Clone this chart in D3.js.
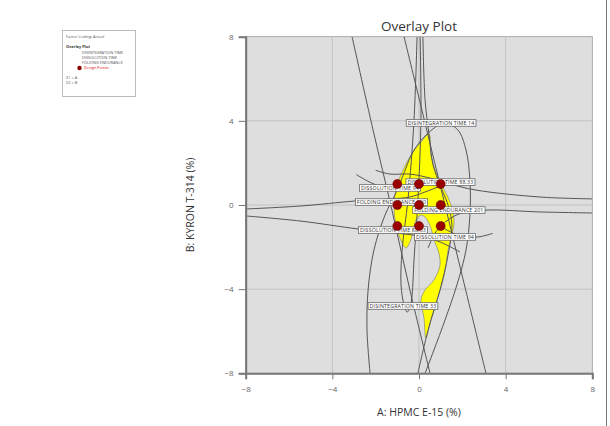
<!DOCTYPE html>
<html>
<head>
<meta charset="utf-8">
<script src="https://cdn.jsdelivr.net/npm/d3@7"></script>
<style>
  body { margin: 0; background: #fff; }
  svg { display: block; font-family: "Open Sans", "Noto Sans", sans-serif; }
</style>
</head>
<body>
<svg id="chart" width="610" height="426"></svg>
<script>
// axis ticks
const xTicks = [-8, -4, 0, 4, 8]
const yTicks = [-8, -4, 0, 4, 8]

// design points (coded factor levels)
const designX = [-1, 0, 1]
const designY = [-1, 0, 1]

// feasible (yellow) region outline, data coords
const sweetSpot = [
  [0.46, 3.37], [0.55, 2.38], [0.78, 1.57], [1.01, 1.00], [1.29, 0.48], [1.52, -0.14],
  [1.62, -0.81], [1.52, -1.43], [1.34, -2.14], [1.25, -2.85], [1.11, -3.56], [0.83, -4.52],
  [0.55, -5.47], [0.32, -6.32], [0.23, -5.37], [0.09, -4.52], [0.28, -4.04], [0.69, -3.56],
  [0.97, -2.85], [0.88, -2.14], [0.69, -1.66], [0.55, -1.09], [0.32, -0.62], [0.09, -0.48],
  [-0.14, -0.71], [-0.28, -1.28], [-0.42, -1.76], [-0.60, -2.04], [-0.88, -1.57], [-1.06, -0.95],
  [-1.15, -0.24], [-1.11, 0.48], [-0.97, 1.09], [-0.69, 1.76], [-0.28, 2.52], [0.09, 2.99]
]

// contour curves, data coords
const lineA = [[-3.09, 8], [-2.12, 3.56], [-1.25, -0.24], [-0.42, -4.04], [0.51, -8]]
const lineB = [[-0.69, 8], [1.20, 0], [3.09, -8]]
const disint14 = [
  [-2.26, -8], [-2.40, -5.94], [-2.35, -4.04], [-2.08, -2.14], [-1.57, -0.48], [-1.11, 0.48],
  [-0.78, 1.28], [-0.28, 2.52], [0.42, 3.42], [1.20, 3.90], [1.80, 3.56], [2.17, 2.61],
  [2.35, 1.19], [2.35, -0.48], [2.17, -2.14], [1.75, -3.80], [1.20, -5.47], [0.69, -6.89], [0.28, -8]
]
const disint33 = [
  [-0.09, 8], [-0.23, 4.04], [-0.51, 0.24], [-0.78, -2.14], [-0.83, -3.80], [-0.69, -4.75],
  [-0.55, -5.09], [-0.42, -4.90], [-0.32, -4.28], [-0.23, -2.61], [-0.05, 0.24], [0.09, 4.04], [0.05, 8]
]
const edgeRight = [
  [0.18, 8], [0.28, 4.99], [0.46, 3.37], [0.65, 1.90], [0.97, 0.95], [1.34, 0],
  [1.52, -0.95], [1.34, -2.38], [0.97, -4.04], [0.42, -5.94], [-0.05, -8]
]
const fold300 = [[-8, -0.19], [-5.49, -0.05], [-2.95, 0.19], [-1.34, 0.29], [-0.42, 0.38], [0.28, 0.62], [0.97, 0.90], [1.6, 1.2]]
const fold201 = [[8, -0.38], [5.58, -0.33], [3.14, -0.24], [1.98, -0.38], [1.34, -0.71], [0.78, -1.28], [0.42, -2.04]]
const diss88lo = [[-8, -0.52], [-5.49, -0.76], [-2.81, -1.14], [-1.11, -1.33], [-0.05, -1.47], [0.97, -1.76], [1.89, -2.23]]
const diss88hi = [[8, 0.29], [5.58, 0.38], [2.63, 0.71], [1.43, 1.00], [0.51, 1.28], [-0.42, 1.47], [-1.34, 1.47], [-2.0, 1.65]]
const diss94a = [[-2.9, 1.45], [-2.3, 1.1], [-1.80, 0.90], [-0.88, 0.81]]
const diss94b = [[0.97, -1.00], [1.89, -1.47], [2.72, -1.52], [3.4, -1.35]]

// contour flags
const flagText = ["DISINTEGRATION TIME  14", "DISSOLUTION TIME  88.33", "DISSOLUTION TIME  94", "FOLDING ENDURANCE  300",
  "FOLDING ENDURANCE  201", "DISSOLUTION TIME  88.33", "DISSOLUTION TIME  94", "DISINTEGRATION TIME  33"]
const flagX = [1.02, 0.99, -1.34, -1.27, 1.38, -1.20, 1.20, -0.74]
const flagY = [3.90, 1.09, 0.81, 0.14, -0.24, -1.19, -1.52, -4.80]

const svg = d3.select("#chart")
const x = d3.scaleLinear().domain([-8, 8]).range([245.7, 592.3])
const y = d3.scaleLinear().domain([-8, 8]).range([373.3, 36.7])

// page frame line at right
svg.append("line").attr("x1", 606.5).attr("x2", 606.5).attr("y1", 0).attr("y2", 426)
  .attr("stroke", "#777").attr("stroke-width", 1)

// legend
const lg = svg.append("g").attr("font-size", 3.9).attr("fill", "#555")
lg.append("rect").attr("x", 62.5).attr("y", 30.5).attr("width", 73).attr("height", 66)
  .attr("fill", "#fff").attr("stroke", "#bbb")
lg.append("text").attr("x", 66).attr("y", 38).text("Factor Coding: Actual")
lg.append("text").attr("x", 66).attr("y", 48).attr("font-weight", "bold").attr("fill", "#333").text("Overlay Plot")
;["DISINTEGRATION TIME", "DISSOLUTION TIME", "FOLDING ENDURANCE"].forEach((t, i) => {
  lg.append("text").attr("x", 82).attr("y", 53.5 + i * 5).text(t)
})
lg.append("circle").attr("cx", 79.5).attr("cy", 68).attr("r", 2.2).attr("fill", "#8b0000")
lg.append("text").attr("x", 84).attr("y", 69.3).attr("fill", "#d00").text("Design Points")
lg.append("text").attr("x", 66).attr("y", 78.5).text("X1 = A")
lg.append("text").attr("x", 66).attr("y", 84).text("X2 = B")

// plot background
svg.append("rect").attr("x", x(-8)).attr("y", y(8)).attr("width", x(8) - x(-8)).attr("height", y(-8) - y(8))
  .attr("fill", "#dedede").attr("stroke", "#999").attr("stroke-width", 0.8)

// grid
const grid = svg.append("g").attr("stroke", "#c2c2c2").attr("stroke-width", 1)
;[-4, 0, 4].forEach(v => {
  grid.append("line").attr("x1", x(v)).attr("x2", x(v)).attr("y1", y(8)).attr("y2", y(-8))
  grid.append("line").attr("x1", x(-8)).attr("x2", x(8)).attr("y1", y(v)).attr("y2", y(v))
})

// yellow region
svg.append("path").datum(sweetSpot)
  .attr("d", d3.line().x(d => x(d[0])).y(d => y(d[1])).curve(d3.curveCatmullRomClosed))
  .attr("fill", "#ffff00").attr("stroke", "#777").attr("stroke-width", 0.6)

// contours
svg.append("clipPath").attr("id", "clip").append("rect")
  .attr("x", x(-8)).attr("y", y(8)).attr("width", x(8) - x(-8)).attr("height", y(-8) - y(8))
const line = d3.line().x(d => x(d[0])).y(d => y(d[1])).curve(d3.curveCatmullRom)
const curves = [lineA, lineB, disint14, disint33, edgeRight, fold300, fold201, diss88lo, diss88hi, diss94a, diss94b]
svg.append("g").attr("clip-path", "url(#clip)")
  .selectAll("path").data(curves).join("path")
  .attr("d", line).attr("fill", "none").attr("stroke", "#555").attr("stroke-width", 1)

// axes
const xAxis = svg.append("g").attr("transform", `translate(0,${y(-8)})`)
  .call(d3.axisBottom(x).tickValues(xTicks).tickSize(6).tickPadding(7))
const yAxis = svg.append("g").attr("transform", `translate(${x(-8)},0)`)
  .call(d3.axisLeft(y).tickValues(yTicks).tickSize(7).tickPadding(5))
;[xAxis, yAxis].forEach(a => {
  a.select(".domain").attr("stroke", "#777").attr("stroke-width", 2)
  a.selectAll(".tick line").attr("stroke", "#777")
  a.selectAll(".tick text").attr("fill", "#666").attr("font-size", 8).attr("font-family", "Open Sans, sans-serif")
})

// flags
const fl = svg.append("g")
flagText.forEach((t, i) => {
  const g = fl.append("g")
  const tx = g.append("text").attr("x", x(flagX[i])).attr("y", y(flagY[i]) + 2)
    .attr("text-anchor", "middle").attr("font-size", 5.3).attr("fill", "#333")
    .attr("letter-spacing", 0.15).text(t)
  const b = tx.node().getBBox()
  g.insert("rect", "text").attr("x", b.x - 1.5).attr("y", y(flagY[i]) - 3.3)
    .attr("width", b.width + 3).attr("height", 6.6)
    .attr("fill", "#fff").attr("stroke", "#666").attr("stroke-width", 0.8)
})

// design points
const pts = designX.flatMap(a => designY.map(b => [a, b]))
svg.append("g").selectAll("circle").data(pts).join("circle")
  .attr("cx", d => x(d[0])).attr("cy", d => y(d[1])).attr("r", 4.5)
  .attr("fill", "#9b0000").attr("stroke", "#6a0000").attr("stroke-width", 0.6)

// titles
svg.append("text").attr("x", 419).attr("y", 31).attr("text-anchor", "middle")
  .attr("font-size", 13.5).attr("fill", "#333").text("Overlay Plot")
svg.append("text").attr("x", 419).attr("y", 416).attr("text-anchor", "middle")
  .attr("font-size", 10.5).attr("fill", "#333").text("A: HPMC E-15 (%)")
svg.append("text").attr("transform", `translate(194,205) rotate(-90)`).attr("text-anchor", "middle")
  .attr("font-size", 10.5).attr("fill", "#333").text("B: KYRON T-314 (%)")
</script>
</body>
</html>
